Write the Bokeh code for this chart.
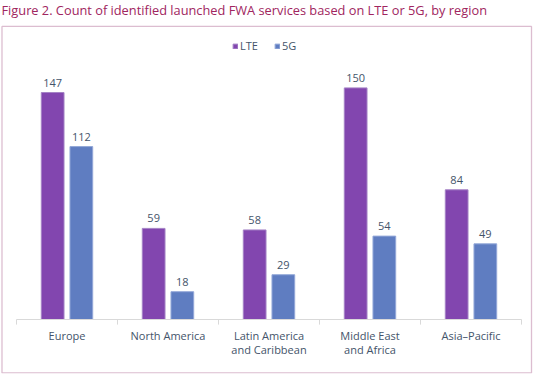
from bokeh.plotting import figure
from bokeh.models import Range1d, ColumnDataSource, Legend, LegendItem, BoxAnnotation, Label
from bokeh.core.properties import value
from bokeh.embed import file_html
from bokeh.resources import INLINE

title_text = "Figure 2. Count of identified launched FWA services based on LTE or 5G, by region"
regions = ["Europe", "North America", "Latin America\nand Caribbean", "Middle East\nand Africa", "Asia\u2013Pacific"]
lte = [147, 59, 58, 150, 84]
g5 = [112, 18, 29, 54, 49]
series_names = ["LTE", "5G"]

FONT = "Open Sans"
TEXT_COLOR = "#44546A"
LTE_COLOR = "#8246AF"
G5_COLOR = "#5F7DC1"
BOX_COLOR = "#8B2563"
TITLE_COLOR = "#A02560"

n = len(regions)
centers = [i + 0.5 for i in range(n)]

p = figure(width=534, height=376, output_backend="svg", toolbar_location=None,
           x_range=Range1d(-0.1584, n + 0.1287), y_range=Range1d(-34.97, 206.6),
           min_border_left=0, min_border_right=0, min_border_bottom=3, min_border_top=0)

p.xaxis.visible = False
p.yaxis.visible = False
p.xgrid.visible = False
p.ygrid.visible = False
p.outline_line_color = None

# framing box around the chart body
p.add_layout(BoxAnnotation(left=-0.1436, right=n + 0.099, bottom=-34.6, top=189.8,
                           fill_alpha=0, line_color=BOX_COLOR, line_width=1.3))

# chart title
p.add_layout(Label(x=-0.1485, y=200.4, text=title_text, text_font=FONT,
                   text_font_size="12.8px", text_color=TITLE_COLOR,
                   text_baseline="middle", text_align="left"))

src = ColumnDataSource(dict(
    x=centers, lte=lte, g5=g5, name=regions,
    lte_x=[c - 0.142 for c in centers], g5_x=[c + 0.142 for c in centers],
    lte_lbl=[str(v) for v in lte], g5_lbl=[str(v) for v in g5],
))

r_lte = p.vbar(x="lte_x", top="lte", bottom=0, width=0.225, source=src,
               fill_color=LTE_COLOR, line_color="#A583C6", line_width=1)
r_g5 = p.vbar(x="g5_x", top="g5", bottom=0, width=0.225, source=src,
              fill_color=G5_COLOR, line_color="#93A8D8", line_width=1)

p.text(x="lte_x", y="lte", text="lte_lbl", source=src, text_align="center",
       text_baseline="alphabetic", y_offset=-10, text_font=value(FONT),
       text_font_size="11px", text_color=TEXT_COLOR)
p.text(x="g5_x", y="g5", text="g5_lbl", source=src, text_align="center",
       text_baseline="alphabetic", y_offset=-10, text_font=value(FONT),
       text_font_size="11px", text_color=TEXT_COLOR)

# baseline axis and category tick marks
p.segment(x0=[0], y0=[0], x1=[n], y1=[0], line_color="#D9D9D9", line_width=1)
p.segment(x0=list(range(n + 1)), y0=[0] * (n + 1), x1=list(range(n + 1)),
          y1=[-3.3] * (n + 1), line_color="#D9D9D9", line_width=1)

# category labels
p.text(x="x", y=0, text="name", source=src, text_align="center",
       text_baseline="top", y_offset=8, text_font=value(FONT),
       text_font_size="11px", text_color=TEXT_COLOR, text_line_height=0.98)

legend = Legend(items=[LegendItem(label=series_names[0], renderers=[r_lte]),
                       LegendItem(label=series_names[1], renderers=[r_g5])],
                location="top_center", orientation="horizontal",
                glyph_width=6, glyph_height=6, label_standoff=2, spacing=14,
                padding=0, margin=38, border_line_color=None,
                background_fill_alpha=0,
                label_text_font=FONT, label_text_font_size="11px",
                label_text_color=TEXT_COLOR, label_height=12)
p.add_layout(legend, "center")

open("out.html", "w").write(file_html(p, INLINE))
